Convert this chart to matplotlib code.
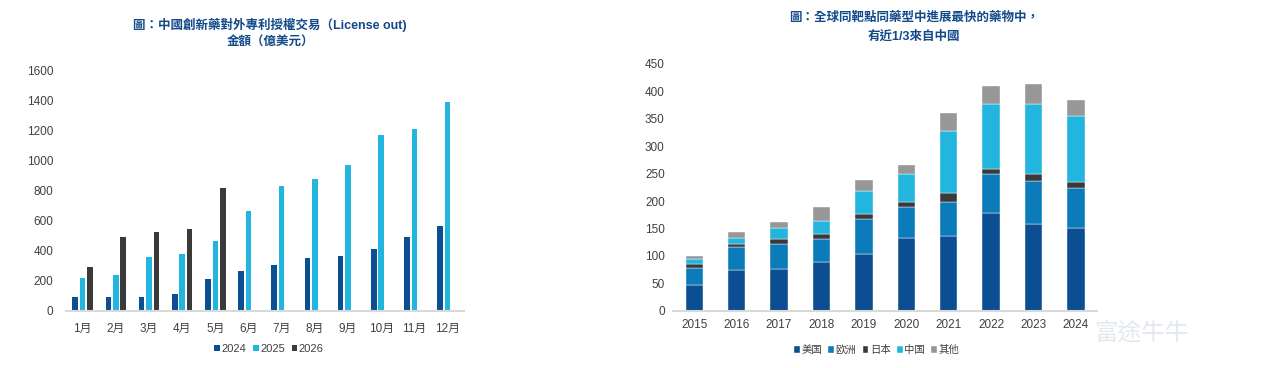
import numpy as np
import matplotlib
matplotlib.use('Agg')
import matplotlib.pyplot as plt

plt.rcParams['font.family'] = ['Liberation Sans', 'Noto Sans CJK TC', 'DejaVu Sans']

# left chart: license-out deal value by month (100m USD)
months = ['1月', '2月', '3月', '4月', '5月', '6月', '7月', '8月', '9月', '10月', '11月', '12月']
v2024 = [89, 89, 89, 109, 213, 264, 301, 348, 366, 408, 492, 563]
v2025 = [217, 237, 359, 377, 463, 663, 827, 876, 966, 1168, 1208, 1385]
v2026 = [288, 488, 521, 543, 813]
left_years = ['2024', '2025', '2026']

# right chart: fastest-progressing drugs by origin
years = ['2015', '2016', '2017', '2018', '2019', '2020', '2021', '2022', '2023', '2024']
us = [46, 75, 76, 88, 103, 133, 137, 178, 158, 150]
eu = [31, 41, 45, 43, 64, 56, 62, 71, 79, 73]
jp = [8, 6, 9, 8, 10, 9, 16, 10, 12, 11]
cn = [9, 11, 21, 25, 41, 51, 113, 118, 128, 122]
other = [6, 10, 11, 26, 20, 17, 33, 32, 37, 28]
regions = ['美国', '欧洲', '日本', '中国', '其他']

c_dark = '#0B4E91'
c_mid = '#0B7BBA'
c_cyan = '#22B6DF'
c_black = '#3A3A3A'
c_grey = '#979797'
title_c = '#124A8A'
tick_c = '#404040'

fig = plt.figure(figsize=(12.8, 3.68), dpi=100)


def style(ax):
    for s in ['top', 'right', 'left']:
        ax.spines[s].set_visible(False)
    ax.spines['bottom'].set_color('#D9D9D9')
    ax.spines['bottom'].set_linewidth(1.5)
    ax.tick_params(axis='both', length=0, labelsize=8.5, colors=tick_c)


# ---- left chart
ax1 = fig.add_axes([0.0516, 0.1557, 0.311, 0.654])
x = np.arange(len(months))
w = 0.17
off = 0.225
ax1.bar(x - off, v2024, w, color=c_dark, label=left_years[0])
ax1.bar(x, v2025, w, color=c_cyan, label=left_years[1])
ax1.bar(np.arange(len(v2026)) + off, v2026, w, color=c_black, label=left_years[2])
ax1.set_xlim(-0.5, len(months) - 0.5)
ax1.set_ylim(0, 1600)
ax1.set_yticks(np.arange(0, 1601, 200))
ax1.set_xticks(x)
ax1.set_xticklabels(months)
ax1.tick_params(axis='x', pad=9)
ax1.tick_params(axis='y', pad=9)
style(ax1)
ax1.legend(loc='center', bbox_to_anchor=(0.51, -0.16), ncol=3, frameon=False,
           fontsize=8, handlelength=0.5, handleheight=0.5, handletextpad=0.15,
           columnspacing=0.6, labelcolor=tick_c)

fig.text(0.211, 0.932, '圖：中國創新藥對外專利授權交易（License out)', ha='center', va='center',
         fontsize=9, fontweight='bold', color=title_c)
fig.text(0.211, 0.885, '金額（億美元）', ha='center', va='center',
         fontsize=9, fontweight='bold', color=title_c)

# ---- right chart
ax2 = fig.add_axes([0.5258, 0.1557, 0.3313, 0.6704])
xr = np.arange(len(years))
bw = 0.41
bottom = np.zeros(len(years))
for vals, col, lab in zip([us, eu, jp, cn, other],
                          [c_dark, c_mid, c_black, c_cyan, c_grey], regions):
    ax2.bar(xr, vals, bw, bottom=bottom, color=col, label=lab,
            edgecolor='white', linewidth=0.3)
    bottom += np.array(vals)
ax2.set_xlim(-0.5, len(years) - 0.5)
ax2.set_ylim(0, 450)
ax2.set_yticks(np.arange(0, 451, 50))
ax2.set_xticks(xr)
ax2.set_xticklabels(years)
ax2.tick_params(axis='x', pad=6)
ax2.tick_params(axis='y', pad=6)
style(ax2)
ax2.legend(loc='center', bbox_to_anchor=(0.48, -0.16), ncol=5, frameon=False,
           fontsize=7.5, handlelength=0.55, handleheight=0.55, handletextpad=0.15,
           columnspacing=0.6, labelcolor=tick_c)

fig.text(0.714, 0.951, '圖：全球同靶點同藥型中進展最快的藥物中，', ha='center', va='center',
         fontsize=9, fontweight='bold', color=title_c)
fig.text(0.714, 0.900, '有近1/3來自中國', ha='center', va='center',
         fontsize=9, fontweight='bold', color=title_c)

# faint watermark
fig.text(0.855, 0.095, '富途牛牛', ha='left', va='center', fontsize=17,
         color='#E3E8EE', zorder=0)

fig.savefig('out.png', dpi=100)
